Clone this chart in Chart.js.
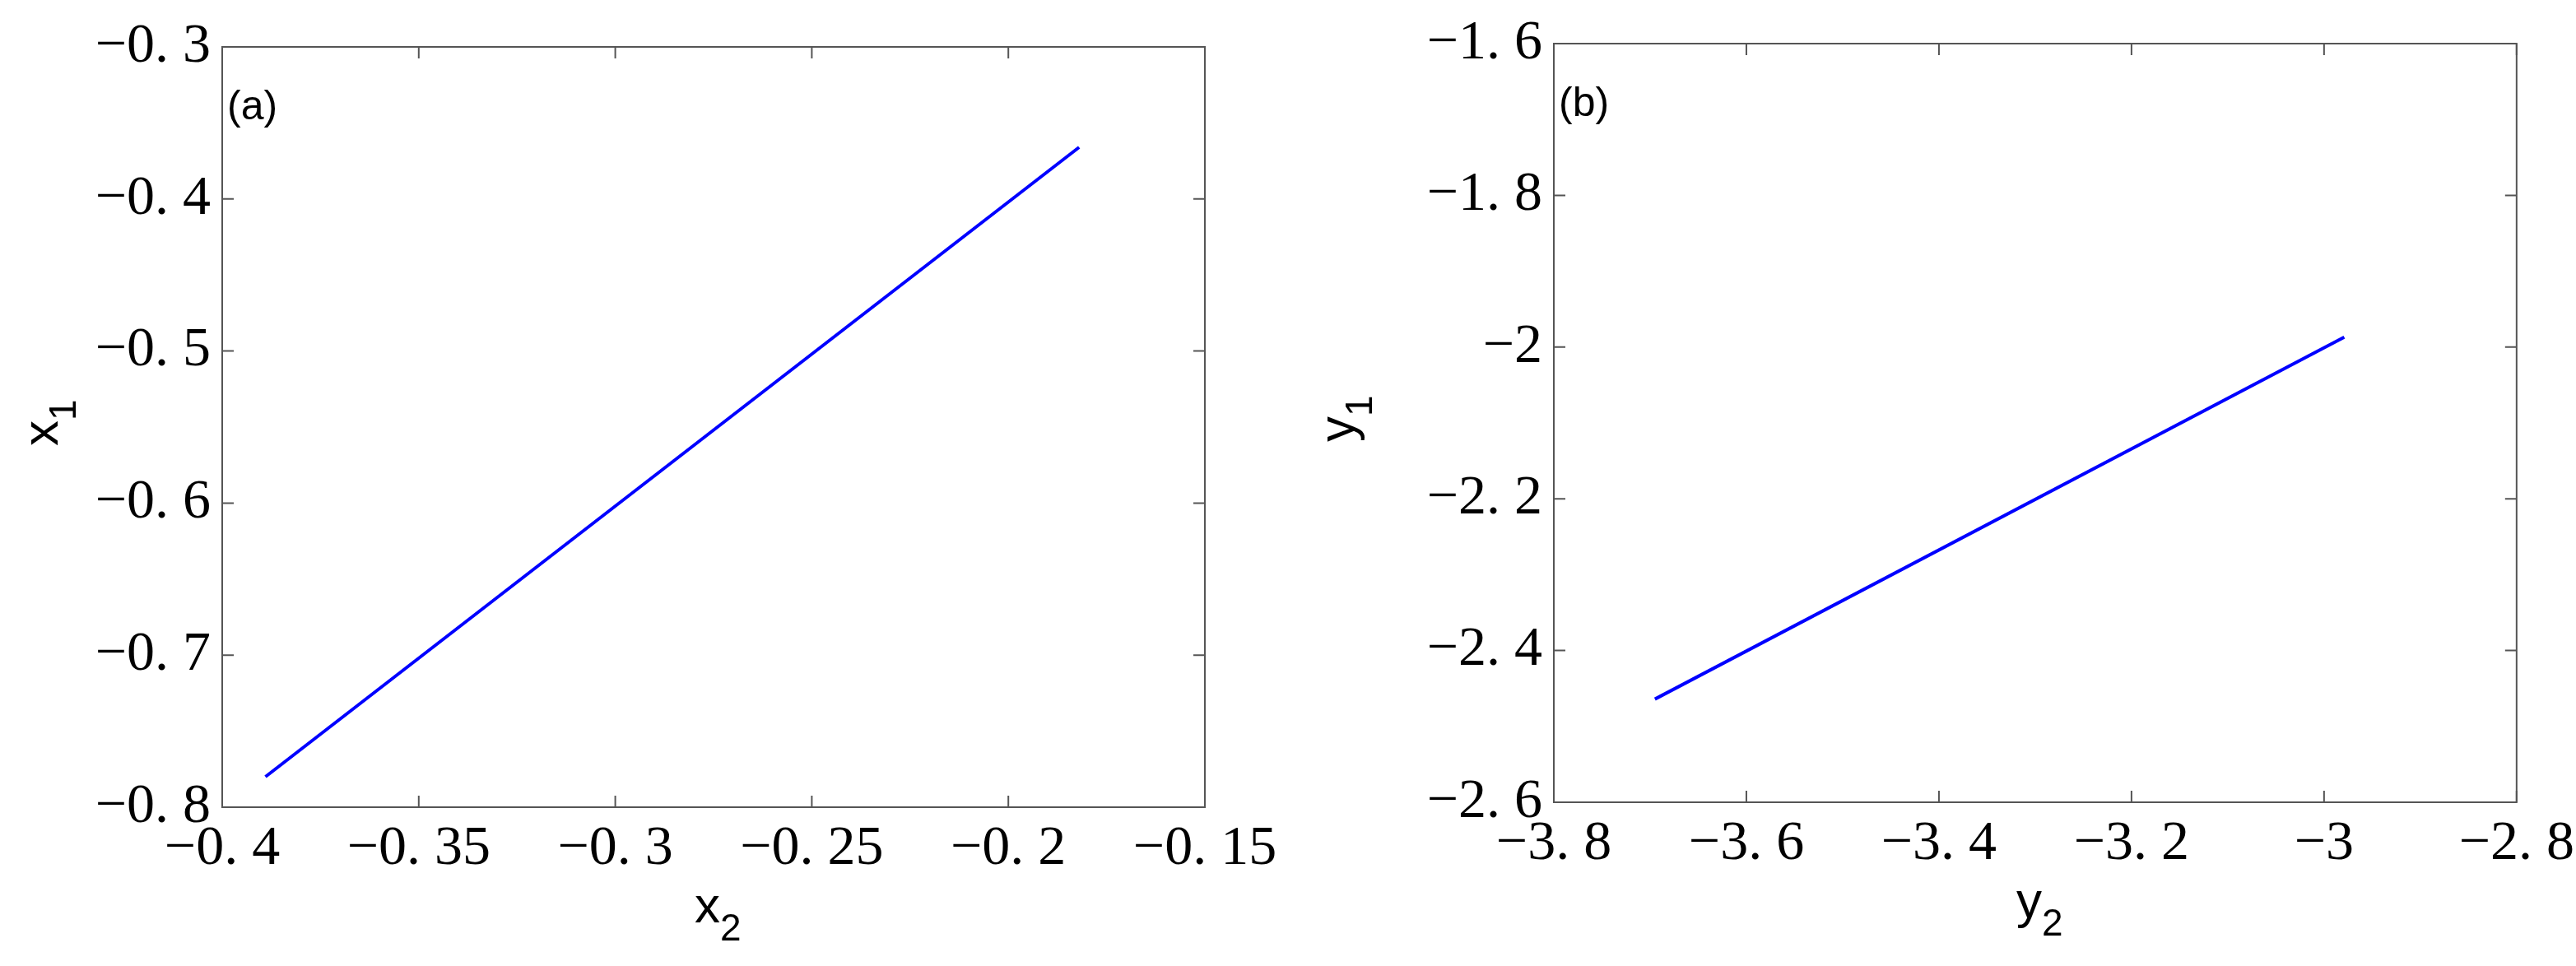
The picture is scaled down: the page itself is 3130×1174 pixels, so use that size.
<!DOCTYPE html>
<html>
<head>
<meta charset="utf-8">
<script src="https://cdn.jsdelivr.net/npm/chart.js@4/dist/chart.umd.min.js"></script>
<style>
  body { margin: 0; background: #fff; width: 3130px; height: 1174px; overflow: hidden; }
  .panel { position: absolute; top: 0; width: 1565px; height: 1174px; }
</style>
</head>
<body>
<div class="panel" style="left:0"><canvas id="chartA"></canvas></div>
<div class="panel" style="left:1565px"><canvas id="chartB"></canvas></div>
<script>
// panel (a): x2 vs x1
const x2Values = [-0.389, -0.182];
const x1Values = [-0.780, -0.366];
const xTicksA = [-0.4, -0.35, -0.3, -0.25, -0.2, -0.15];
const yTicksA = [-0.8, -0.7, -0.6, -0.5, -0.4, -0.3];

// panel (b): y2 vs y1
const y2Values = [-3.695, -2.979];
const y1Values = [-2.464, -1.987];
const xTicksB = [-3.8, -3.6, -3.4, -3.2, -3.0, -2.8];
const yTicksB = [-2.6, -2.4, -2.2, -2.0, -1.8, -1.6];

const tickFont = { family: 'Liberation Serif', size: 68 };

function fmt(v) {
    let s = String(Math.abs(Math.round(v * 100) / 100));
    s = s.replace('.', '. ');
    return (v < 0 ? '\u2212' : '') + s;
}

// box, inward ticks, axis titles with subscripts, panel tag
const framePlugin = {
    id: 'frame',
    afterDraw(chart, args, opts) {
        const { ctx, chartArea: a, scales } = chart;
        ctx.save();
        ctx.strokeStyle = '#555';
        ctx.lineWidth = 2;
        ctx.strokeRect(a.left, a.top, a.right - a.left, a.bottom - a.top);
        const len = 14;
        ctx.beginPath();
        opts.xTicks.forEach(v => {
            const px = scales.x.getPixelForValue(v);
            ctx.moveTo(px, a.bottom); ctx.lineTo(px, a.bottom - len);
            ctx.moveTo(px, a.top); ctx.lineTo(px, a.top + len);
        });
        opts.yTicks.forEach(v => {
            const py = scales.y.getPixelForValue(v);
            ctx.moveTo(a.left, py); ctx.lineTo(a.left + len, py);
            ctx.moveTo(a.right, py); ctx.lineTo(a.right - len, py);
        });
        ctx.stroke();

        ctx.fillStyle = '#000';
        ctx.textBaseline = 'alphabetic';
        // x title
        const cx = (a.left + a.right) / 2;
        ctx.font = '62px Liberation Sans';
        ctx.textAlign = 'right';
        ctx.fillText(opts.letter, cx + 8, a.bottom + 140);
        ctx.font = '46px Liberation Sans';
        ctx.textAlign = 'left';
        ctx.fillText('2', cx + 8, a.bottom + 162);
        // y title, rotated
        ctx.save();
        ctx.translate(opts.yTitleX, (a.top + a.bottom) / 2);
        ctx.rotate(-Math.PI / 2);
        ctx.font = '62px Liberation Sans';
        ctx.textAlign = 'right';
        ctx.fillText(opts.letter, 8, 0);
        ctx.font = '46px Liberation Sans';
        ctx.textAlign = 'left';
        ctx.fillText('1', 8, 22);
        ctx.restore();
        // panel tag
        ctx.font = '50px Liberation Sans';
        ctx.textAlign = 'left';
        ctx.fillText(opts.tag, a.left + 6, a.top + 88);
        ctx.restore();
    }
};

function makeChart(id, xs, ys, xTicks, yTicks, pad, leftW, bottomH, letter, tag, yTitleX) {
    const pts = xs.map((x, i) => ({ x: x, y: ys[i] }));
    return new Chart(document.getElementById(id), {
        type: 'scatter',
        data: { datasets: [{ data: pts, showLine: true, borderColor: '#0000ff', borderWidth: 4, pointRadius: 0, fill: false }] },
        options: {
            responsive: true,
            maintainAspectRatio: false,
            animation: false,
            layout: { padding: pad },
            plugins: {
                legend: { display: false },
                tooltip: { enabled: false },
                frame: { xTicks: xTicks, yTicks: yTicks, letter: letter, tag: tag, yTitleX: yTitleX }
            },
            scales: {
                x: {
                    type: 'linear',
                    min: xTicks[0], max: xTicks[xTicks.length - 1],
                    afterBuildTicks: s => { s.ticks = xTicks.map(v => ({ value: v })); },
                    afterFit: s => { s.height = bottomH; },
                    grid: { display: false },
                    border: { display: false },
                    ticks: { font: tickFont, color: '#000', padding: 2, maxRotation: 0, callback: v => fmt(v) }
                },
                y: {
                    type: 'linear',
                    min: yTicks[0], max: yTicks[yTicks.length - 1],
                    afterBuildTicks: s => { s.ticks = yTicks.map(v => ({ value: v })); },
                    afterFit: s => { s.width = leftW; },
                    grid: { display: false },
                    border: { display: false },
                    ticks: { font: tickFont, color: '#000', padding: 6, callback: v => fmt(v) }
                }
            }
        },
        plugins: [framePlugin]
    });
}

makeChart('chartA', x2Values, x1Values, xTicksA, yTicksA,
    { top: 57, right: 101, left: 0, bottom: 0 }, 270, 193, 'x', '(a)', 70);
makeChart('chartB', y2Values, y1Values, xTicksB, yTicksB,
    { top: 53, right: 57, left: 0, bottom: 0 }, 323, 199, 'y', '(b)', 80);
</script>
</body>
</html>
